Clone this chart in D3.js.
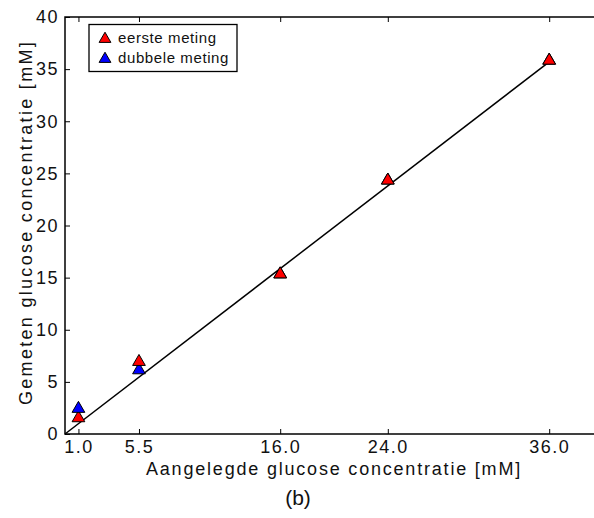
<!DOCTYPE html>
<html>
<head>
<meta charset="utf-8">
<script src="https://cdn.jsdelivr.net/npm/d3@7"></script>
<style>
body { margin: 0; background: #fff; }
text { font-family: "Liberation Sans", Arial, sans-serif; fill: #111; }
</style>
</head>
<body>
<svg></svg>
<script>
// aangelegde concentraties en gemeten waarden
var xTicks = [1.0, 5.5, 16.0, 24.0, 36.0];
var yTicks = [0, 5, 10, 15, 20, 25, 30, 35, 40];
var eerste = [1.7, 7.1, 15.5, 24.5, 36.0];
var dubbele = [2.6, 6.3, 15.5, 24.5, 36.0];
var fitLine = [[0, 0], [36, 35.7]];

var width = 594, height = 518;
var m = {left: 65, top: 17, right: 603, bottom: 434};
var font = '"Liberation Sans", Arial, sans-serif';

var svg = d3.select('svg').attr('width', width).attr('height', height);

var x = d3.scaleLinear().domain([0, 40]).range([m.left, m.right]);
var y = d3.scaleLinear().domain([0, 40]).range([m.bottom, m.top]);

// frame
svg.append('rect')
  .attr('x', m.left).attr('y', m.top)
  .attr('width', m.right - m.left).attr('height', m.bottom - m.top)
  .attr('fill', 'none').attr('stroke', '#000').attr('stroke-width', 1.5);

function styleTicks(g) {
  g.select('.domain').remove();
  g.selectAll('text').attr('font-size', 18).attr('font-family', font)
    .attr('fill', '#111').attr('letter-spacing', 1.5);
}

// ticks (inward)
svg.append('g').attr('transform', `translate(0,${m.bottom})`)
  .call(d3.axisBottom(x).tickValues(xTicks).tickSizeInner(-5).tickSizeOuter(0).tickPadding(6).tickFormat(d3.format('.1f')))
  .call(styleTicks);
svg.append('g').attr('transform', `translate(0,${m.top})`)
  .call(d3.axisTop(x).tickValues(xTicks).tickSizeInner(-5).tickSizeOuter(0).tickFormat(''))
  .call(styleTicks);
svg.append('g').attr('transform', `translate(${m.left},0)`)
  .call(d3.axisLeft(y).tickValues(yTicks).tickSizeInner(-5).tickSizeOuter(0).tickPadding(6))
  .call(styleTicks);

// fit line
svg.append('path')
  .attr('d', d3.line().x(d => x(d[0])).y(d => y(d[1]))(fitLine))
  .attr('fill', 'none').attr('stroke', '#000').attr('stroke-width', 1.5);

// d3 triangle is centred on its centroid; shift so the box centre sits on the value
var tri = d3.symbol().type(d3.symbolTriangle).size(70);
var pts = [];
xTicks.forEach((v, i) => {
  pts.push({x: v, y: dubbele[i], c: '#0000ff'});
  pts.push({x: v, y: eerste[i], c: '#ff0000'});
});
pts.sort((a, b) => a.y - b.y);

svg.selectAll('path.pt').data(pts).enter().append('path')
  .attr('class', 'pt')
  .attr('d', tri)
  .attr('transform', d => `translate(${x(d.x)},${y(d.y) + 1.8})`)
  .attr('fill', d => d.c).attr('stroke', '#000').attr('stroke-width', 1);

// legend
var lg = svg.append('g');
lg.append('rect').attr('x', 89).attr('y', 24.5).attr('width', 148).attr('height', 47)
  .attr('fill', '#fff').attr('stroke', '#000').attr('stroke-width', 1.3);
var triSmall = d3.symbol().type(d3.symbolTriangle).size(60);
[['eerste meting', '#ff0000'], ['dubbele meting', '#0000ff']].forEach((d, i) => {
  lg.append('path').attr('d', triSmall).attr('transform', `translate(105,${39 + i * 20})`)
    .attr('fill', d[1]).attr('stroke', '#000').attr('stroke-width', 1);
  lg.append('text').attr('x', 118).attr('y', 43 + i * 20).attr('font-size', 15)
    .attr('letter-spacing', 0.6).text(d[0]);
});

// labels
svg.append('text').attr('x', (m.left + m.right) / 2).attr('y', 475).attr('text-anchor', 'middle')
  .attr('font-size', 18).attr('letter-spacing', 1.8).text('Aangelegde glucose concentratie [mM]');
svg.append('text').attr('transform', `translate(32,${(m.top + m.bottom) / 2 - 3}) rotate(-90)`).attr('text-anchor', 'middle')
  .attr('font-size', 18).attr('letter-spacing', 2.3).text('Gemeten glucose concentratie [mM]');
svg.append('text').attr('x', 298).attr('y', 505).attr('text-anchor', 'middle')
  .attr('font-size', 21).text('(b)');
</script>
</body>
</html>
